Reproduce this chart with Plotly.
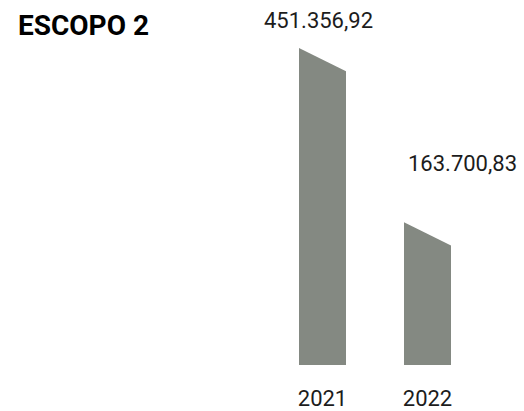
import plotly.graph_objects as go

# ---- data ----
categories = ["2021", "2022"]
values = [451356.92, 163700.83]
value_labels = ["451.356,92", "163.700,83"]
title_text = "ESCOPO 2"

# ---- style ----
BAR_COLOR = "#848982"
TEXT_COLOR = "#1c1c1c"
BASE = -53000          # visual baseline of the bars (axis bottom)
Y_MAX = 550000
HALF_W = 0.2238        # half bar width in x units
SLANT = 19150          # half of the slanted-top drop, in y units
LABEL_XSHIFT = [-4, 35]
LABEL_YSHIFT = [39, 70]

fig = go.Figure()
for i, (cat, v) in enumerate(zip(categories, values)):
    xs = [i - HALF_W, i - HALF_W, i + HALF_W, i + HALF_W, i - HALF_W]
    ys = [BASE, v + SLANT, v - SLANT, BASE, BASE]
    fig.add_trace(go.Scatter(
        x=xs, y=ys, fill="toself", mode="lines",
        line=dict(width=0, color=BAR_COLOR), fillcolor=BAR_COLOR,
        hoverinfo="skip", showlegend=False, name=cat,
    ))
    fig.add_annotation(
        x=i, y=v, text=value_labels[i], showarrow=False,
        xanchor="center", yanchor="middle",
        xshift=LABEL_XSHIFT[i], yshift=LABEL_YSHIFT[i],
        font=dict(family="Roboto", size=22, color=TEXT_COLOR),
    )

fig.add_annotation(
    x=0, y=1, xref="paper", yref="paper", xanchor="left", yanchor="top",
    xshift=16, yshift=-7, text="<b>%s</b>" % title_text, showarrow=False,
    font=dict(family="Roboto", size=28, color="#000000"),
)

fig.update_layout(
    width=524, height=411,
    margin=dict(l=0, r=0, t=0, b=41),
    paper_bgcolor="white", plot_bgcolor="white",
    xaxis=dict(range=[-3.0714, 1.919], tickvals=list(range(len(categories))),
               ticktext=categories, showgrid=False, zeroline=False,
               showline=False, ticks="", ticklabelstandoff=18,
               tickfont=dict(family="Roboto", size=22, color=TEXT_COLOR),
               fixedrange=True),
    yaxis=dict(range=[BASE, Y_MAX], visible=False, fixedrange=True),
)

fig.write_html("out.html", config={"displayModeBar": False})
